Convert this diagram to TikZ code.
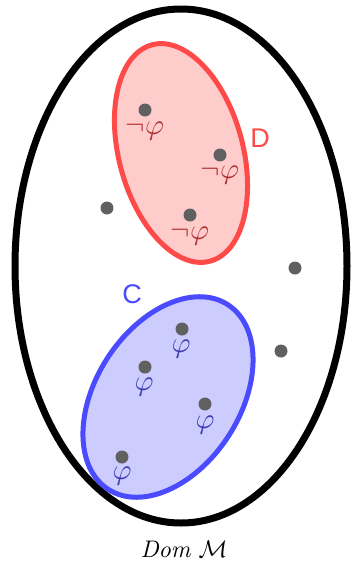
\documentclass[tikz,border=0pt]{standalone}
\usepackage{fontspec}
\newfontfamily\labelfont{Liberation Sans}
\begin{document}
\begin{tikzpicture}[x=1pt,y=1pt,
  dot/.style={circle,fill=dotgray,inner sep=0pt,minimum size=13pt},
  neglab/.style={text=negred,inner sep=0pt},
  poslab/.style={text=posblue,inner sep=0pt},
  setlab/.style={inner sep=0pt,font=\labelfont\fontsize{27}{27}\selectfont}]
\definecolor{dotgray}{HTML}{606060}
\definecolor{redline}{HTML}{FF4A4A}
\definecolor{redfill}{HTML}{FFCCCC}
\definecolor{blueline}{HTML}{4A4AFF}
\definecolor{bluefill}{HTML}{CCCCFF}
\definecolor{negred}{HTML}{B03030}
\definecolor{posblue}{HTML}{3838B0}
\useasboundingbox (0,0) rectangle (355,-563);
% outer domain
\draw[line width=7pt] (181,-266) ellipse [x radius=166, y radius=257];
% D
\draw[line width=5pt,draw=redline,fill=redfill] (181,-153) ellipse [x radius=112, y radius=62, rotate=105];
% C
\draw[line width=5pt,draw=blueline,fill=bluefill] (168,-397) ellipse [x radius=110, y radius=72, rotate=57];
\node[setlab,text=redline,anchor=base] (D) at (260,-147) {D};
\node[setlab,text=blueline,anchor=base] (C) at (132,-303) {C};
% dots in D
\node[dot] (d1) at (145,-110) {};
\node[dot] (d2) at (220,-155) {};
\node[dot] (d3) at (190,-215) {};
\node[neglab] (l1) at (145,-131) {\scalebox{2.9}{$\neg\varphi$}};
\node[neglab] (l2) at (220,-175) {\scalebox{2.9}{$\neg\varphi$}};
\node[neglab] (l3) at (190,-236) {\scalebox{2.9}{$\neg\varphi$}};
% outside dots
\node[dot] (o1) at (107,-208) {};
\node[dot] (o2) at (295,-268) {};
\node[dot] (o3) at (281,-351) {};
% dots in C
\node[dot] (c1) at (182,-329) {};
\node[dot] (c2) at (145,-367) {};
\node[dot] (c3) at (205,-404) {};
\node[dot] (c4) at (122,-457) {};
\node[poslab] (p1) at (181,-349) {\scalebox{2.9}{$\varphi$}};
\node[poslab] (p2) at (144,-387) {\scalebox{2.9}{$\varphi$}};
\node[poslab] (p3) at (205,-425) {\scalebox{2.9}{$\varphi$}};
\node[poslab] (p4) at (122,-476) {\scalebox{2.9}{$\varphi$}};
\node (dom) at (184,-549) {\scalebox{2.4}{$\mathit{Dom}\ \mathcal{M}$}};
\end{tikzpicture}
\end{document}
